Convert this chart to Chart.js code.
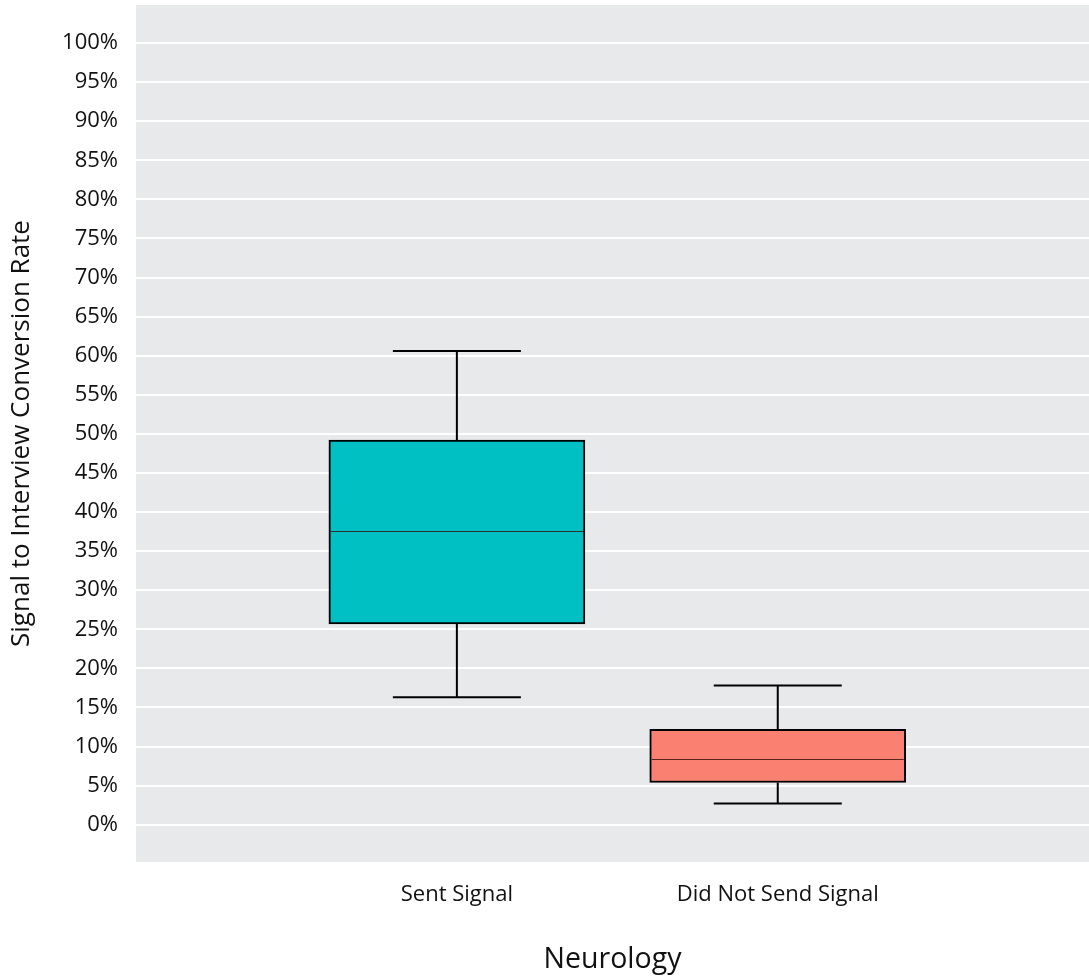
<!DOCTYPE html>
<html>
<head>
<meta charset="utf-8">
<script src="https://cdn.jsdelivr.net/npm/chart.js@4/dist/chart.umd.min.js"></script>
<style>
  html, body { margin: 0; padding: 0; background: #ffffff; }
  #wrap { width: 1089px; height: 977px; }
</style>
</head>
<body>
<div id="wrap"><canvas id="c" width="1089" height="977"></canvas></div>
<script>
// ---- data (percent) ----
const categories = ['Sent Signal', 'Did Not Send Signal'];
const xPositions = [1, 2];
const whiskerLow = [16.3, 2.7];
const q1Values = [25.7, 5.4];
const medianValues = [37.6, 8.4];
const q3Values = [49.2, 12.2];
const whiskerHigh = [60.6, 17.8];
const boxColors = ['#00C0C4', '#FA8072'];
const yTickValues = [0, 5, 10, 15, 20, 25, 30, 35, 40, 45, 50, 55, 60, 65, 70, 75, 80, 85, 90, 95, 100];

const FONT = "'Open Sans', 'Noto Sans', sans-serif";

const bgPlugin = {
  id: 'plotBg',
  beforeDraw(chart) {
    const {ctx, chartArea: a} = chart;
    ctx.save();
    ctx.fillStyle = '#E7E9EA';
    ctx.fillRect(a.left, a.top, a.right - a.left, a.bottom - a.top);
    ctx.restore();
  }
};

const boxPlugin = {
  id: 'boxWhiskers',
  afterDatasetsDraw(chart) {
    const {ctx, scales: {x, y}} = chart;
    const meta = chart.getDatasetMeta(0);
    ctx.save();
    categories.forEach((c, i) => {
      const bar = meta.data[i];
      const cx = x.getPixelForValue(xPositions[i]);
      const w = bar.width;
      const capHalf = w / 4;
      ctx.strokeStyle = '#000000';
      ctx.lineWidth = 2;
      ctx.beginPath();
      ctx.moveTo(cx, y.getPixelForValue(q3Values[i]));
      ctx.lineTo(cx, y.getPixelForValue(whiskerHigh[i]));
      ctx.moveTo(cx - capHalf, y.getPixelForValue(whiskerHigh[i]));
      ctx.lineTo(cx + capHalf, y.getPixelForValue(whiskerHigh[i]));
      ctx.moveTo(cx, y.getPixelForValue(q1Values[i]));
      ctx.lineTo(cx, y.getPixelForValue(whiskerLow[i]));
      ctx.moveTo(cx - capHalf, y.getPixelForValue(whiskerLow[i]));
      ctx.lineTo(cx + capHalf, y.getPixelForValue(whiskerLow[i]));
      ctx.stroke();
      ctx.strokeStyle = 'rgba(60,20,15,0.85)';
      ctx.lineWidth = 1;
      ctx.beginPath();
      const my = Math.round(y.getPixelForValue(medianValues[i])) + 0.5;
      ctx.moveTo(cx - w / 2 + 2, my);
      ctx.lineTo(cx + w / 2 - 2, my);
      ctx.stroke();
    });
    ctx.restore();
  }
};

new Chart(document.getElementById('c'), {
  type: 'bar',
  data: {
    datasets: [{
      data: categories.map((c, i) => ({x: xPositions[i], y: [q1Values[i], q3Values[i]]})),
      backgroundColor: boxColors,
      borderColor: '#000000',
      borderWidth: 2,
      borderSkipped: false,
      barThickness: 256
    }]
  },
  options: {
    responsive: false,
    animation: false,
    layout: { padding: { top: 5, right: 0, bottom: 0, left: 0 } },
    plugins: { legend: { display: false }, tooltip: { enabled: false } },
    scales: {
      x: {
        type: 'linear',
        offset: false,
        min: 0,
        max: 2.97,
        grid: { display: false, drawTicks: false, offset: false },
        border: { display: false },
        afterBuildTicks(scale) { scale.ticks = xPositions.map(v => ({value: v})); },
        afterFit(scale) { scale.height = 115; scale.paddingLeft = 0; scale.paddingRight = 0; },
        ticks: {
          padding: 20,
          autoSkip: false,
          maxRotation: 0,
          color: '#111111',
          font: { family: FONT, size: 22 },
          callback: (v) => categories[xPositions.indexOf(v)]
        },
        title: {
          display: true,
          text: 'Neurology',
          color: '#111111',
          font: { family: FONT, size: 28.5 },
          padding: { top: 3, bottom: 0 }
        }
      },
      y: {
        type: 'linear',
        min: -4.77,
        max: 104.86,
        grid: { color: '#FFFFFF', lineWidth: 2, drawTicks: false },
        border: { display: false },
        afterBuildTicks(scale) { scale.ticks = yTickValues.map(v => ({value: v})); },
        afterFit(scale) { scale.width = 136; scale.paddingTop = 0; scale.paddingBottom = 0; },
        ticks: {
          padding: 18,
          color: '#111111',
          font: { family: FONT, size: 22 },
          callback: (v) => v + '%'
        },
        title: {
          display: true,
          text: 'Signal to Interview Conversion Rate',
          color: '#111111',
          font: { family: FONT, size: 26 },
          padding: { top: 6, bottom: 0 }
        }
      }
    }
  },
  plugins: [bgPlugin, boxPlugin]
});
</script>
</body>
</html>
